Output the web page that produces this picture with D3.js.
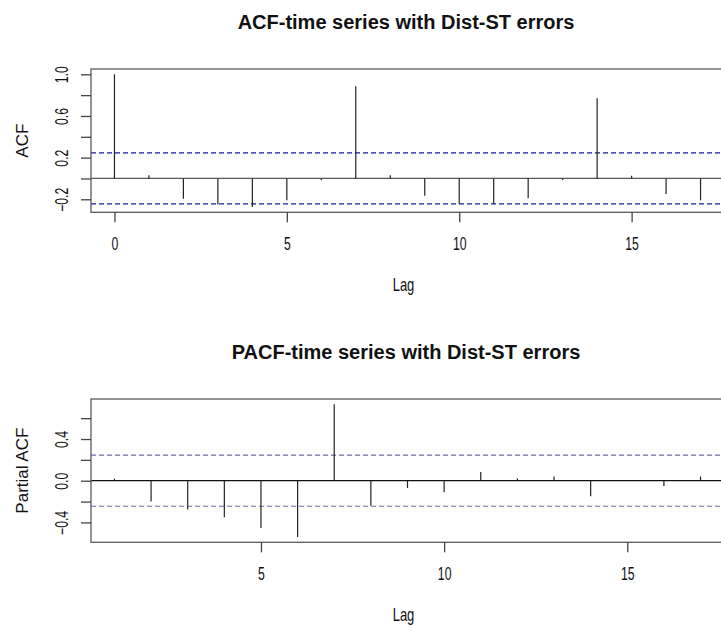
<!DOCTYPE html>
<html>
<head>
<meta charset="utf-8">
<script src="https://cdn.jsdelivr.net/npm/d3@7"></script>
<style>
  body { margin: 0; background: #fff; }
  svg text { font-family: "Liberation Sans", Arial, sans-serif; fill: #111; }
</style>
</head>
<body>
<svg id="chart" width="721" height="631"></svg>
<script>
// lags and correlation values
var acf_lags = d3.range(0, 18);
var acf_vals = [1.0, 0.03, -0.194, -0.25, -0.274, -0.21, -0.016, 0.885, 0.03, -0.166,
                -0.242, -0.242, -0.19, -0.016, 0.77, 0.025, -0.15, -0.21];
var pacf_lags = d3.range(1, 18);
var pacf_vals = [0.02, -0.2, -0.276, -0.35, -0.454, -0.54, 0.733, -0.241, -0.07, -0.111,
                 0.083, 0.02, 0.041, -0.149, 0.005, -0.05, 0.041];
var ci = 0.245; // blue dashed limits

var acf_yticks = [-0.2, 0, 0.2, 0.4, 0.6, 0.8, 1.0];
var acf_ylabels = [-0.2, 0.2, 0.6, 1.0];
var acf_xticks = [0, 5, 10, 15];
var pacf_yticks = [-0.4, -0.2, 0, 0.2, 0.4, 0.6];
var pacf_ylabels = [-0.4, 0, 0.4];
var pacf_xticks = [5, 10, 15];

var svg = d3.select("#chart");

// one correlogram panel, R style
function draw_panel(opt) {
    var g = svg.append("g");
    var left = 91, right = 724, top = opt.top, bottom = opt.top + 143.3;

    var xext = d3.extent(opt.lags), xpad = (xext[1] - xext[0]) * 0.04;
    var x = d3.scaleLinear().domain([xext[0] - xpad, xext[1] + xpad]).range([left, right]);

    var yext = d3.extent(opt.vals.concat([-ci, ci])), ypad = (yext[1] - yext[0]) * 0.04;
    var y = d3.scaleLinear().domain([yext[0] - ypad, yext[1] + ypad]).range([bottom, top]);

    // zero line
    g.append("line")
        .attr("x1", left).attr("x2", right)
        .attr("y1", y(0)).attr("y2", y(0))
        .attr("stroke", opt.zero_col).attr("stroke-width", 1.3);

    // confidence limits
    [ci, -ci].forEach(function (c) {
        g.append("line")
            .attr("x1", left).attr("x2", right)
            .attr("y1", y(c)).attr("y2", y(c))
            .attr("stroke", opt.ci_col).attr("stroke-width", 1.2)
            .attr("stroke-dasharray", "5,3");
    });

    // spikes
    g.selectAll(".spike")
        .data(opt.lags)
        .enter()
        .append("line")
        .attr("class", "spike")
        .attr("x1", function (d) { return x(d); })
        .attr("x2", function (d) { return x(d); })
        .attr("y1", y(0))
        .attr("y2", function (d, i) { return y(opt.vals[i]); })
        .attr("stroke", "#222").attr("stroke-width", 1.2);

    // box
    g.append("rect")
        .attr("x", left).attr("y", top)
        .attr("width", right - left).attr("height", bottom - top)
        .attr("fill", "none").attr("stroke", "#5a5a5a").attr("stroke-width", 1.3);

    // y axis
    var yaxis = g.append("g")
        .attr("transform", "translate(" + left + ",0)")
        .call(d3.axisLeft(y).tickValues(opt.yticks).tickSize(10)
            .tickFormat(function (d) {
                return opt.ylabels.some(function (l) { return Math.abs(l - d) < 1e-9; }) ? d3.format(".1f")(d) : "";
            }));
    yaxis.select(".domain").remove();
    yaxis.selectAll("line").attr("stroke", "#444").attr("stroke-width", 1.3);
    yaxis.selectAll("text")
        .attr("x", null).attr("dy", null)
        .attr("text-anchor", "middle")
        .attr("transform", "translate(-23,0) rotate(-90) scale(0.7,1)")
        .style("font-size", "17.5px").style("font-family", "Liberation Sans, Arial, sans-serif")
        .attr("fill", "#111");

    // x axis
    var xaxis = g.append("g")
        .attr("transform", "translate(0," + bottom + ")")
        .call(d3.axisBottom(x).tickValues(opt.xticks).tickSize(10).tickFormat(d3.format("d")));
    xaxis.select(".domain").remove();
    xaxis.selectAll("line").attr("stroke", "#444").attr("stroke-width", 1.3);
    xaxis.selectAll("text")
        .attr("y", 37.7).attr("dy", null)
        .attr("x", 0)
        .attr("transform", "scale(0.7,1)")
        .style("font-size", "17.5px").style("font-family", "Liberation Sans, Arial, sans-serif")
        .attr("fill", "#111");

    // titles
    g.append("text")
        .attr("x", 406).attr("y", top - 39.7)
        .attr("text-anchor", "middle")
        .style("font-size", "20px").style("font-weight", "bold")
        .text(opt.title);

    g.append("text")
        .attr("transform", "translate(403.5," + (bottom + 78.4) + ") scale(0.72,1)")
        .attr("text-anchor", "middle")
        .style("font-size", "18px")
        .text("Lag");

    g.append("text")
        .attr("transform", "translate(28," + ((top + bottom) / 2) + ") rotate(-90)")
        .attr("text-anchor", "middle")
        .style("font-size", "17px")
        .text(opt.ylab);
}

draw_panel({
    top: 69, lags: acf_lags, vals: acf_vals,
    yticks: acf_yticks, ylabels: acf_ylabels, xticks: acf_xticks,
    title: "ACF-time series with Dist-ST errors", ylab: "ACF",
    zero_col: "#5a5a5a", ci_col: "#1a1a9a"
});

draw_panel({
    top: 399, lags: pacf_lags, vals: pacf_vals,
    yticks: pacf_yticks, ylabels: pacf_ylabels, xticks: pacf_xticks,
    title: "PACF-time series with Dist-ST errors", ylab: "Partial ACF",
    zero_col: "#111", ci_col: "#6a6aaa"
});
</script>
</body>
</html>
